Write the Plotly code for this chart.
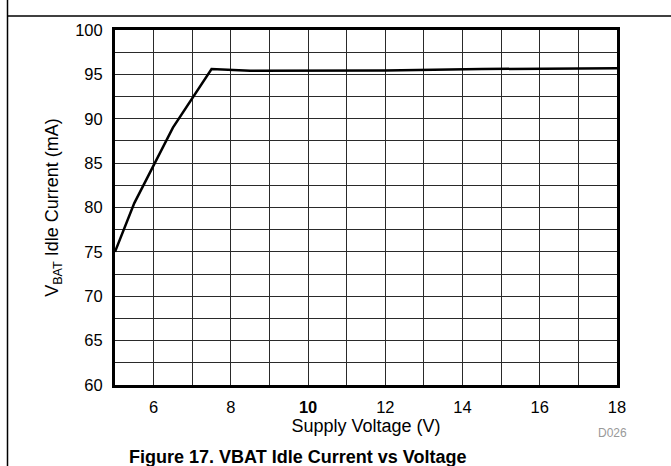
import plotly.graph_objects as go

# Data
supply_voltage = [5.0, 5.5, 6.5, 7.5, 8.5, 10.0, 12.0, 14.5, 18.0]
idle_current = [75.0, 80.5, 89.0, 95.6, 95.4, 95.4, 95.45, 95.6, 95.7]

x_ticks = [6, 8, 10, 12, 14, 16, 18]
x_labels = ["6", "8", "<b>10</b>", "12", "14", "16", "18"]
y_ticks = [60, 65, 70, 75, 80, 85, 90, 95, 100]
y_labels = ["60", "65", "70", "75", "80", "85", "90", "95", "100"]

W, H = 671, 466
L, R, T, B = 115, 54, 30, 81
pw, ph = W - L - R, H - T - B

def px(x):
    return (x - L) / pw

def py(y):
    return (H - B - y) / ph

font = "Liberation Sans, Arial, sans-serif"
grid = "#2a2a2a"

fig = go.Figure()
fig.add_trace(go.Scatter(x=supply_voltage, y=idle_current, mode="lines",
                         line=dict(color="black", width=2.5), showlegend=False,
                         hoverinfo="skip"))

fig.update_layout(
    width=W, height=H,
    margin=dict(l=L, r=R, t=T, b=B),
    paper_bgcolor="white", plot_bgcolor="white",
    font=dict(family=font, color="black", size=16),
    xaxis=dict(range=[5, 18], tickmode="array", tickvals=x_ticks, ticktext=x_labels,
               showgrid=True, gridcolor=grid, gridwidth=1,
               minor=dict(tickmode="linear", tick0=5, dtick=1, showgrid=True,
                          gridcolor=grid, gridwidth=1, ticks=""),
               showline=True, linecolor="black", linewidth=3, mirror=True,
               ticks="", ticklabelstandoff=5, zeroline=False,
               tickfont=dict(size=16.5),
               title=dict(text="Supply Voltage (V)", font=dict(size=18), standoff=1)),
    yaxis=dict(range=[60, 100], tickmode="array", tickvals=y_ticks, ticktext=y_labels,
               showgrid=True, gridcolor=grid, gridwidth=1,
               minor=dict(tickmode="linear", tick0=60, dtick=2.5, showgrid=True,
                          gridcolor=grid, gridwidth=1, ticks=""),
               showline=True, linecolor="black", linewidth=3, mirror=True,
               ticks="", ticklabelstandoff=6, zeroline=False,
               tickfont=dict(size=16.5),
               title=dict(text="V<sub>BAT</sub> Idle Current (mA)", font=dict(size=18), standoff=12)),
    shapes=[
        dict(type="line", xref="paper", yref="paper", x0=px(7.5), x1=px(7.5),
             y0=py(-5), y1=py(H + 5), line=dict(color="black", width=1.5)),
        dict(type="line", xref="paper", yref="paper", x0=px(7.5), x1=px(W + 5),
             y0=py(16), y1=py(16), line=dict(color="black", width=1.5)),
    ],
    annotations=[
        dict(text="D026", xref="paper", yref="paper", x=px(612), y=py(433),
             showarrow=False, font=dict(size=12, color="#999999"),
             xanchor="center", yanchor="middle"),
        dict(text="<b>Figure 17. VBAT Idle Current vs Voltage</b>", xref="paper", yref="paper",
             x=px(297), y=py(457), showarrow=False,
             font=dict(size=18, color="black"), xanchor="center", yanchor="middle"),
    ],
)

fig.write_html("out.html", config={"displayModeBar": False},
               post_script="document.body.style.margin='0';document.body.style.overflow='hidden';")
